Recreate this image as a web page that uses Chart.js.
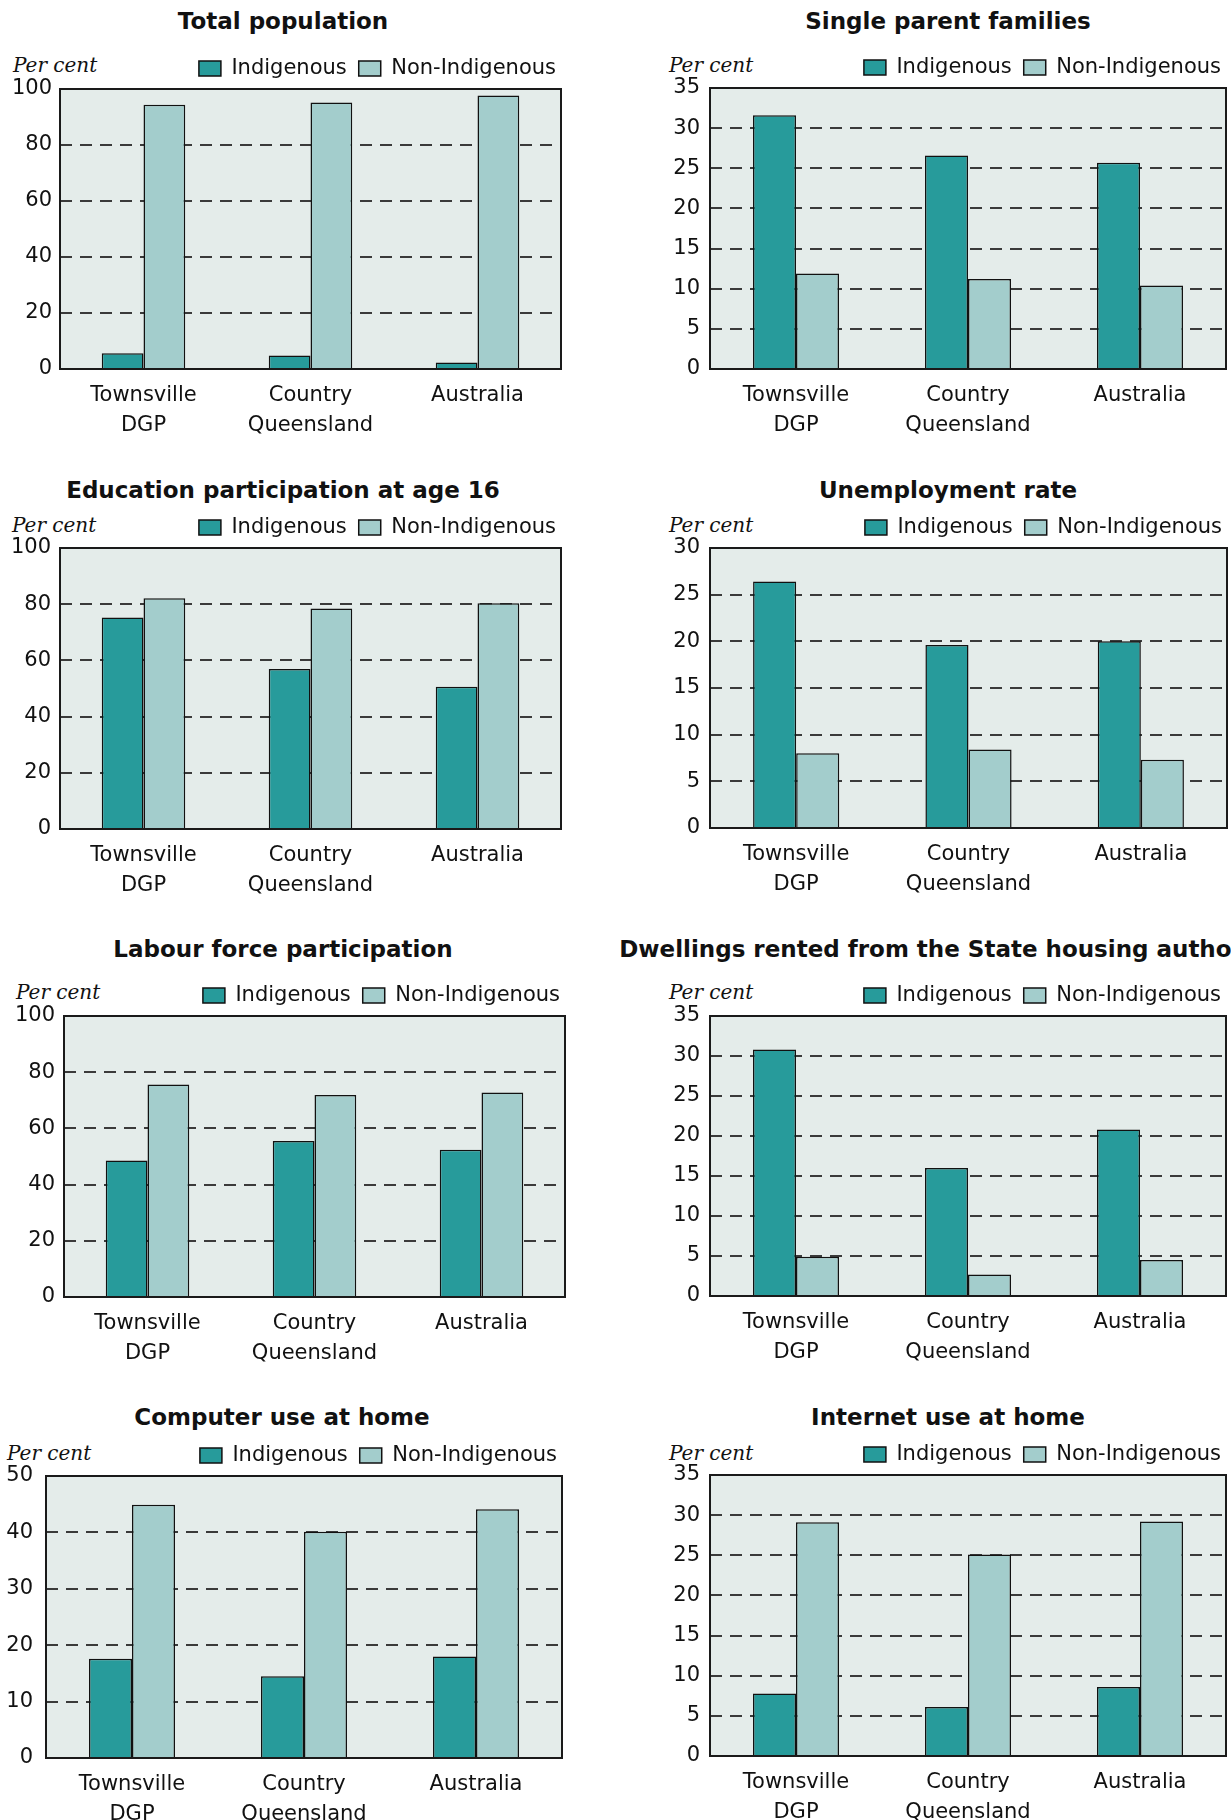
<!DOCTYPE html>
<html><head><meta charset="utf-8">
<script src="https://cdn.jsdelivr.net/npm/chart.js@4.4.1/dist/chart.umd.min.js"></script>
<style>
html,body{margin:0;padding:0;background:#fff;}
body{width:1231px;height:1820px;position:relative;overflow:hidden;}
.wrap{position:absolute;}
.title{position:absolute;font:bold 23px "DejaVu Sans",sans-serif;color:#111;white-space:nowrap;line-height:23px;transform:translateX(-50%);}
.pc{position:absolute;font:italic 20px "DejaVu Serif",serif;color:#111;white-space:nowrap;line-height:20px;}
</style></head><body>
<script>
// ---- data ----
const categories = [['Townsville','DGP'],['Country','Queensland'],['Australia']];
const seriesNames = ['Indigenous','Non-Indigenous'];
const panelTitles = ['Total population','Single parent families','Education participation at age 16','Unemployment rate','Labour force participation','Dwellings rented from the State housing authority','Computer use at home','Internet use at home'];
const totalPopIndig = [5.6, 4.8, 2.3];
const totalPopNon = [94.4, 95.2, 97.7];
const singleParentIndig = [31.6, 26.6, 25.7];
const singleParentNon = [11.9, 11.2, 10.4];
const educationIndig = [75.3, 56.9, 50.6];
const educationNon = [82.1, 78.5, 80.3];
const unemploymentIndig = [26.4, 19.6, 20.0];
const unemploymentNon = [8.0, 8.4, 7.3];
const labourIndig = [48.6, 55.5, 52.4];
const labourNon = [75.6, 71.9, 72.8];
const dwellingsIndig = [30.8, 16.0, 20.8];
const dwellingsNon = [4.9, 2.7, 4.5];
const computerIndig = [17.6, 14.5, 18.0];
const computerNon = [44.9, 40.1, 44.1];
const internetIndig = [7.8, 6.1, 8.6];
const internetNon = [29.1, 25.1, 29.2];
const yMaxes = [100, 35, 100, 30, 100, 35, 50, 35];
const ySteps = [20, 5, 20, 5, 20, 5, 10, 5];
const yAxisLabel = 'Per cent';

// ---- layout / style ----
const TEAL = '#279b9b', LIGHT = '#a3cdcc', BG = '#e4ecea', INK = '#111';
const FONT = '"DejaVu Sans", sans-serif';
const layout = [
 {l:60,r:561,t:89,b:369, tx:283, tb:29, px:13, cy:65, gap:8, cl:0},
 {l:710,r:1226,t:88,b:369, tx:948, tb:29, px:669, cy:65, gap:10, cl:600},
 {l:60,r:561,t:548,b:829, tx:283, tb:498, px:12, cy:525, gap:9, cl:0},
 {l:710,r:1227,t:548,b:828, tx:948, tb:498, px:669, cy:525, gap:10, cl:600},
 {l:64,r:565,t:1016,b:1297, tx:283, tb:957, px:16, cy:992, gap:9, cl:0},
 {l:710,r:1226,t:1016,b:1296, tx:948, tb:957, px:669, cy:992, gap:10, cl:600},
 {l:46,r:562,t:1476,b:1758, tx:282, tb:1425, px:7, cy:1453, gap:13, cl:0},
 {l:710,r:1226,t:1475,b:1756, tx:948, tb:1425, px:669, cy:1453, gap:10, cl:600}
];
const RIGHT_EXTRA = 7;

const plotFrame = {
  id:'plotFrame',
  beforeDraw(chart){
    const {ctx, chartArea:a} = chart;
    ctx.save(); ctx.fillStyle = BG; ctx.fillRect(a.left, a.top, a.right-a.left, a.bottom-a.top); ctx.restore();
  },
  afterDatasetsDraw(chart){
    const {ctx, chartArea:a} = chart;
    ctx.save(); ctx.strokeStyle = '#1a1a1a'; ctx.lineWidth = 2;
    ctx.strokeRect(a.left, a.top, a.right-a.left, a.bottom-a.top); ctx.restore();
  }
};

function addText(cls, text, x, y){
  const d = document.createElement('div'); d.className = cls; d.textContent = text;
  d.style.left = x+'px'; d.style.top = y+'px'; document.body.appendChild(d);
}

function makePanel(i, indig, non){
  const L = layout[i];
  const yMax = yMaxes[i];
  addText('title', panelTitles[i], L.tx, L.tb - 19);
  addText('pc', yAxisLabel, L.px, L.cy - 10);
  const wrap = document.createElement('div'); wrap.className = 'wrap';
  const W = L.r + RIGHT_EXTRA - L.cl;
  wrap.style.left = L.cl+'px'; wrap.style.width = W+'px'; wrap.style.height = '420px'; wrap.style.top = '0px';
  const cv = document.createElement('canvas'); wrap.appendChild(cv); document.body.appendChild(wrap);
  const chart = new Chart(cv, {
    type:'bar',
    data:{labels:categories, datasets:[
      {label:seriesNames[0], data:indig, backgroundColor:TEAL, borderColor:INK, borderWidth:1.5, categoryPercentage:0.5, barPercentage:1.0},
      {label:seriesNames[1], data:non, backgroundColor:LIGHT, borderColor:INK, borderWidth:1.5, categoryPercentage:0.5, barPercentage:1.0}
    ]},
    options:{
      responsive:true, maintainAspectRatio:false, animation:false, devicePixelRatio:1,
      layout:{padding:0},
      plugins:{
        legend:{position:'top', align:'end', labels:{font:{family:FONT, size:21}, color:INK, boxWidth:22, boxHeight:15, padding:12}},
        title:{display:false}, tooltip:{enabled:false}
      },
      scales:{
        x:{grid:{display:false}, border:{display:false},
           ticks:{font:{family:FONT, size:21, lineHeight:1.43}, color:INK, padding:4, maxRotation:0, autoSkip:false},
           afterFit:s=>{s.height = 75;}},
        y:{min:0, max:yMax,
           grid:{color:c=>(c.tick && (c.tick.value===0 || c.tick.value===yMax)) ? 'rgba(0,0,0,0)' : '#3a3a3a', lineWidth:2, drawTicks:false},
           border:{display:false, dash:[12,8]},
           ticks:{stepSize:ySteps[i], font:{family:FONT, size:21}, color:INK, padding:L.gap},
           afterFit:s=>{s.width = L.l - L.cl;}},
        yR:{type:'linear', position:'right', display:true, grid:{display:false}, border:{display:false}, ticks:{display:false},
           afterFit:s=>{s.width = RIGHT_EXTRA;}}
      }
    },
    plugins:[plotFrame]
  });
  const ca = chart.chartArea;
  const newH = 420 + ((L.b - L.t) - (ca.bottom - ca.top));
  wrap.style.height = newH+'px';
  chart.resize();
  wrap.style.top = (L.t - chart.chartArea.top)+'px';
}

makePanel(0, totalPopIndig, totalPopNon);
makePanel(1, singleParentIndig, singleParentNon);
makePanel(2, educationIndig, educationNon);
makePanel(3, unemploymentIndig, unemploymentNon);
makePanel(4, labourIndig, labourNon);
makePanel(5, dwellingsIndig, dwellingsNon);
makePanel(6, computerIndig, computerNon);
makePanel(7, internetIndig, internetNon);
</script>
</body></html>
